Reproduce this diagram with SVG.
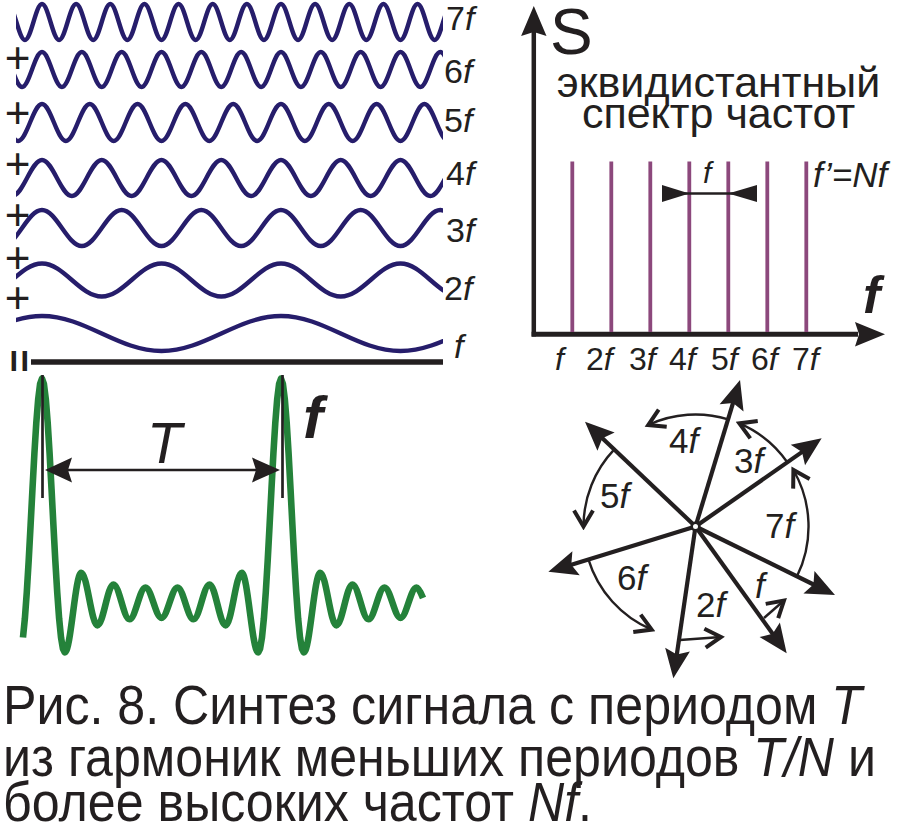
<svg xmlns="http://www.w3.org/2000/svg" width="901" height="826" viewBox="0 0 901 826">
<style>
.bg{fill:#fff}
.w{fill:none;stroke:#261d6b;stroke-width:4.4}
.t{font-family:"Liberation Sans",Arial,sans-serif;fill:#231f20}
.i{font-style:italic}
.b{font-weight:bold}
.k{stroke:#231f20;fill:none}
.kf{fill:#231f20;stroke:none}
.vec{stroke:#231f20;stroke-width:4.2;fill:none;marker-end:url(#ah)}
.arc{stroke:#231f20;stroke-width:2.4;fill:none;marker-end:url(#oh)}
.pl{stroke:#8c487c;stroke-width:3.8}
.cap{font-family:"Liberation Sans Narrow","Liberation Sans",Arial,sans-serif;font-size:56px;fill:#231f20}
</style>
<defs>
<clipPath id="wclip"><rect x="16" y="-5" width="427" height="375"/></clipPath>
<marker id="ah" markerUnits="userSpaceOnUse" viewBox="-22 -14 32 28" markerWidth="32" markerHeight="28" refX="0" refY="0" orient="auto">
<path d="M8,0 L-21,-12.5 L-16,0 L-21,12.5 Z" fill="#231f20"/>
</marker>
<marker id="oh" markerUnits="userSpaceOnUse" viewBox="-20 -13 24 26" markerWidth="24" markerHeight="26" refX="0" refY="0" orient="auto">
<path d="M-16,-9.5 L0,0 L-16,9.5" fill="none" stroke="#231f20" stroke-width="4"/>
</marker>
</defs>
<rect class="bg" x="0" y="0" width="901" height="826"/>

<g id="harmonics" clip-path="url(#wclip)">
<path id="h7" class="w" d="M7.857 4 c6.217 0 10.854 36 17.071 36 s10.854 -36 17.071 -36 s10.854 36 17.071 36 s10.854 -36 17.071 -36 s10.854 36 17.071 36 s10.854 -36 17.071 -36 s10.854 36 17.071 36 s10.854 -36 17.071 -36 s10.854 36 17.071 36 s10.854 -36 17.071 -36 s10.854 36 17.071 36 s10.854 -36 17.071 -36 s10.854 36 17.071 36 s10.854 -36 17.071 -36 s10.854 36 17.071 36 s10.854 -36 17.071 -36 s10.854 36 17.071 36 s10.854 -36 17.071 -36 s10.854 36 17.071 36 s10.854 -36 17.071 -36 s10.854 36 17.071 36 s10.854 -36 17.071 -36 s10.854 36 17.071 36 s10.854 -36 17.071 -36 s10.854 36 17.071 36 s10.854 -36 17.071 -36"/>
<path id="h6" class="w" d="M2.167 52 c7.254 0 12.663 35 19.917 35 s12.663 -35 19.917 -35 s12.663 35 19.917 35 s12.663 -35 19.917 -35 s12.663 35 19.917 35 s12.663 -35 19.917 -35 s12.663 35 19.917 35 s12.663 -35 19.917 -35 s12.663 35 19.917 35 s12.663 -35 19.917 -35 s12.663 35 19.917 35 s12.663 -35 19.917 -35 s12.663 35 19.917 35 s12.663 -35 19.917 -35 s12.663 35 19.917 35 s12.663 -35 19.917 -35 s12.663 35 19.917 35 s12.663 -35 19.917 -35 s12.663 35 19.917 35 s12.663 -35 19.917 -35 s12.663 35 19.917 35 s12.663 -35 19.917 -35 s12.663 35 19.917 35"/>
<path id="h5" class="w" d="M-5.8 104 c8.704 0 15.196 37 23.9 37 s15.196 -37 23.9 -37 s15.196 37 23.9 37 s15.196 -37 23.9 -37 s15.196 37 23.9 37 s15.196 -37 23.9 -37 s15.196 37 23.9 37 s15.196 -37 23.9 -37 s15.196 37 23.9 37 s15.196 -37 23.9 -37 s15.196 37 23.9 37 s15.196 -37 23.9 -37 s15.196 37 23.9 37 s15.196 -37 23.9 -37 s15.196 37 23.9 37 s15.196 -37 23.9 -37 s15.196 37 23.9 37 s15.196 -37 23.9 -37 s15.196 37 23.9 37"/>
<path id="h4" class="w" d="M-17.75 160 c10.881 0 18.994 36 29.875 36 s18.994 -36 29.875 -36 s18.994 36 29.875 36 s18.994 -36 29.875 -36 s18.994 36 29.875 36 s18.994 -36 29.875 -36 s18.994 36 29.875 36 s18.994 -36 29.875 -36 s18.994 36 29.875 36 s18.994 -36 29.875 -36 s18.994 36 29.875 36 s18.994 -36 29.875 -36 s18.994 36 29.875 36 s18.994 -36 29.875 -36 s18.994 36 29.875 36 s18.994 -36 29.875 -36"/>
<path id="h3" class="w" d="M-37.667 210 c14.507 0 25.326 36 39.833 36 s25.326 -36 39.833 -36 s25.326 36 39.833 36 s25.326 -36 39.833 -36 s25.326 36 39.833 36 s25.326 -36 39.833 -36 s25.326 36 39.833 36 s25.326 -36 39.833 -36 s25.326 36 39.833 36 s25.326 -36 39.833 -36 s25.326 36 39.833 36 s25.326 -36 39.833 -36 s25.326 36 39.833 36"/>
<path id="h2" class="w" d="M-77.5 263.5 c21.76 0 37.99 33 59.75 33 s37.99 -33 59.75 -33 s37.99 33 59.75 33 s37.99 -33 59.75 -33 s37.99 33 59.75 33 s37.99 -33 59.75 -33 s37.99 33 59.75 33 s37.99 -33 59.75 -33 s37.99 33 59.75 33"/>
<path id="h1" class="w" d="M-77.5 351 c43.52 0 75.98 -35 119.5 -35 s75.98 35 119.5 35 s75.98 -35 119.5 -35 s75.98 35 119.5 35 s75.98 -35 119.5 -35"/>
</g>

<g id="harmonic-labels" class="t" font-size="34">
<text x="446" y="30">7<tspan class="i">f</tspan></text>
<text x="444" y="83">6<tspan class="i">f</tspan></text>
<text x="444" y="132">5<tspan class="i">f</tspan></text>
<text x="446" y="185">4<tspan class="i">f</tspan></text>
<text x="446" y="242">3<tspan class="i">f</tspan></text>
<text x="444" y="300">2<tspan class="i">f</tspan></text>
<text class="i" x="454" y="358">f</text>
</g>

<g id="plus-signs" class="t" font-size="44" text-anchor="middle">
<text x="17.5" y="72.5">+</text>
<text x="17.5" y="127.5">+</text>
<text x="17.5" y="178.5">+</text>
<text x="17.5" y="229.5">+</text>
<text x="17.5" y="272.5">+</text>
<text x="17.5" y="312.5">+</text>
</g>

<g id="equals">
<text class="t b" font-size="40" text-anchor="middle" x="19" y="375.4" transform="rotate(90 19 361)">=</text>
<line class="k" x1="31" y1="362" x2="443" y2="362" stroke-width="5.5"/>
</g>

<g id="sum-signal">
<path fill="none" stroke="#24823a" stroke-width="6.6" stroke-linejoin="round" d="M22.98 637.5 L24.88 618.4 L26.78 592.3 L28.69 560.6 L30.59 525.1 L32.49 488.6 L34.39 453.6 L36.29 422.9 L38.2 399.1 L40.1 383.9 L42 378.7 L43.9 383.9 L45.8 399.1 L47.71 422.9 L49.61 453.6 L51.51 488.6 L53.41 525.1 L55.31 560.6 L57.22 592.3 L59.12 618.4 L61.02 637.5 L62.92 648.7 L64.82 652.4 C70.80 652.4 75.26 572.8 81.24 572.8 C87.12 572.8 91.51 625.35 97.39 625.35 C103.24 625.35 107.60 584.45 113.45 584.45 C119.29 584.45 123.64 619.32 129.48 619.32 C135.31 619.32 139.67 587.66 145.50 587.66 C151.33 587.66 155.67 617.9 161.5 617.9 C167.33 617.9 171.67 587.66 177.5 587.66 C183.33 587.66 187.69 619.32 193.52 619.32 C199.36 619.32 203.71 584.45 209.55 584.45 C215.40 584.45 219.76 625.35 225.61 625.35 C231.49 625.35 235.88 572.8 241.76 572.8 C247.74 572.8 252.20 652.4 258.18 652.4 L260.08 648.7 L261.98 637.5 L263.88 618.4 L265.78 592.3 L267.69 560.6 L269.59 525.1 L271.49 488.6 L273.39 453.6 L275.29 422.9 L277.2 399.1 L279.1 383.9 L281 378.7 L282.9 383.9 L284.8 399.1 L286.71 422.9 L288.61 453.6 L290.51 488.6 L292.41 525.1 L294.31 560.6 L296.22 592.3 L298.12 618.4 L300.02 637.5 L301.92 648.7 L303.82 652.4 C309.80 652.4 314.26 572.8 320.24 572.8 C326.12 572.8 330.51 625.35 336.39 625.35 C342.24 625.35 346.60 584.45 352.45 584.45 C358.29 584.45 362.64 619.32 368.48 619.32 C374.31 619.32 378.67 587.66 384.50 587.66 C390.33 587.66 394.67 617.9 400.5 617.9 C406.33 617.9 410.67 587.66 416.5 587.66 C418.5 587.66 420.8 592.5 423 598"/>
<line class="k" x1="42.5" y1="375" x2="42.5" y2="498" stroke-width="2.7"/>
<line class="k" x1="282.5" y1="375" x2="282.5" y2="498" stroke-width="2.7"/>
<line class="k" x1="68" y1="470" x2="256" y2="470" stroke-width="2.7"/>
<polygon class="kf" points="45,470 72,457.5 68,470 72,482.5"/>
<polygon class="kf" points="280,470 252,457.5 256,470 252,482.5"/>
<text class="t i" font-size="57" x="147" y="463">T</text>
<text class="t i b" font-size="60" x="303" y="438">f</text>
</g>

<g id="spectrum">
<line class="k" x1="533.8" y1="30" x2="533.8" y2="336.5" stroke-width="4.5"/>
<line class="k" x1="531.6" y1="334.2" x2="858" y2="334.2" stroke-width="5"/>
<polygon class="kf" points="533.8,6 546.5,36 533.8,32 521.1,36"/>
<polygon class="kf" points="885,334.2 855,346.5 859,334.2 855,322"/>
<line class="pl" x1="572.3" y1="161.5" x2="572.3" y2="332"/>
<line class="pl" x1="611.3" y1="161.5" x2="611.3" y2="332"/>
<line class="pl" x1="650.3" y1="161.5" x2="650.3" y2="332"/>
<line class="pl" x1="689.3" y1="161.5" x2="689.3" y2="332"/>
<line class="pl" x1="728.3" y1="161.5" x2="728.3" y2="332"/>
<line class="pl" x1="767.3" y1="161.5" x2="767.3" y2="332"/>
<line class="pl" x1="806.3" y1="161.5" x2="806.3" y2="332"/>
<line class="k" x1="662" y1="193.5" x2="757" y2="193.5" stroke-width="2.7"/>
<polygon class="kf" points="662,185 689.3,193.5 662,202"/>
<polygon class="kf" points="757,185 728.3,193.5 757,202"/>
<text class="t" font-size="64" x="550" y="54">S</text>
<text class="t" font-size="43" text-anchor="middle" x="718.5" y="96.7">эквидистантный</text>
<text class="t" font-size="43" text-anchor="middle" x="718.5" y="128.3">спектр частот</text>
<text class="t i" font-size="30" x="703" y="183">f</text>
<text class="t i" font-size="35" x="813" y="187">f’=Nf</text>
<text class="t i b" font-size="52" x="863" y="313">f</text>
<g class="t" font-size="32">
<text class="i" x="555" y="370">f</text>
<text x="586" y="370">2<tspan class="i">f</tspan></text>
<text x="629" y="370">3<tspan class="i">f</tspan></text>
<text x="669" y="370">4<tspan class="i">f</tspan></text>
<text x="711" y="370">5<tspan class="i">f</tspan></text>
<text x="751" y="370">6<tspan class="i">f</tspan></text>
<text x="792" y="370">7<tspan class="i">f</tspan></text>
</g>
</g>

<g id="phasors">
<path class="vec" d="M695.5 526.5 L737.7 387.7"/>
<path class="vec" d="M695.5 526.5 L590.8 427.2"/>
<path class="vec" d="M695.5 526.5 L815.1 442.9"/>
<path class="vec" d="M695.5 526.5 L827.8 591.5"/>
<path class="vec" d="M695.5 526.5 L782.0 646.8"/>
<path class="vec" d="M695.5 526.5 L674.5 670.4"/>
<path class="vec" d="M695.5 526.5 L556.0 569.4"/>
<path class="arc" d="M728.2 419.4 A112 112 0 0 0 648.2 425.0"/>
<path class="arc" d="M787.3 462.3 A112 112 0 0 0 739.3 423.4"/>
<path class="arc" d="M614.3 449.4 A112 112 0 0 0 583.5 526.5"/>
<path class="arc" d="M588.4 559.3 A112 112 0 0 0 651.7 629.6"/>
<path class="arc" d="M797.1 576.0 A113 113 0 0 0 793.4 470.0"/>
<path class="arc" d="M680 640 L721 637"/>
<path class="arc" d="M764 618 L784 600.5"/>
<circle cx="695.5" cy="526.5" r="3.8" fill="#fff" stroke="#231f20" stroke-width="2.6"/>
<g class="t" font-size="35">
<text x="669" y="453">4<tspan class="i">f</tspan></text>
<text x="734" y="473">3<tspan class="i">f</tspan></text>
<text x="600" y="508">5<tspan class="i">f</tspan></text>
<text x="765" y="538">7<tspan class="i">f</tspan></text>
<text x="617" y="590">6<tspan class="i">f</tspan></text>
<text x="696" y="617">2<tspan class="i">f</tspan></text>
<text class="i" x="755" y="598">f</text>
</g>
</g>

<g id="caption">
<text class="cap" x="3" y="724" textLength="859" lengthAdjust="spacingAndGlyphs">Рис. 8. Синтез сигнала с периодом <tspan font-style="italic">T</tspan></text>
<text class="cap" x="3" y="776" textLength="873" lengthAdjust="spacingAndGlyphs">из гармоник меньших периодов <tspan font-style="italic">T/N</tspan> и</text>
<text class="cap" x="3" y="821" textLength="589" lengthAdjust="spacingAndGlyphs">более высоких частот <tspan font-style="italic">Nf</tspan>.</text>
</g>
</svg>
